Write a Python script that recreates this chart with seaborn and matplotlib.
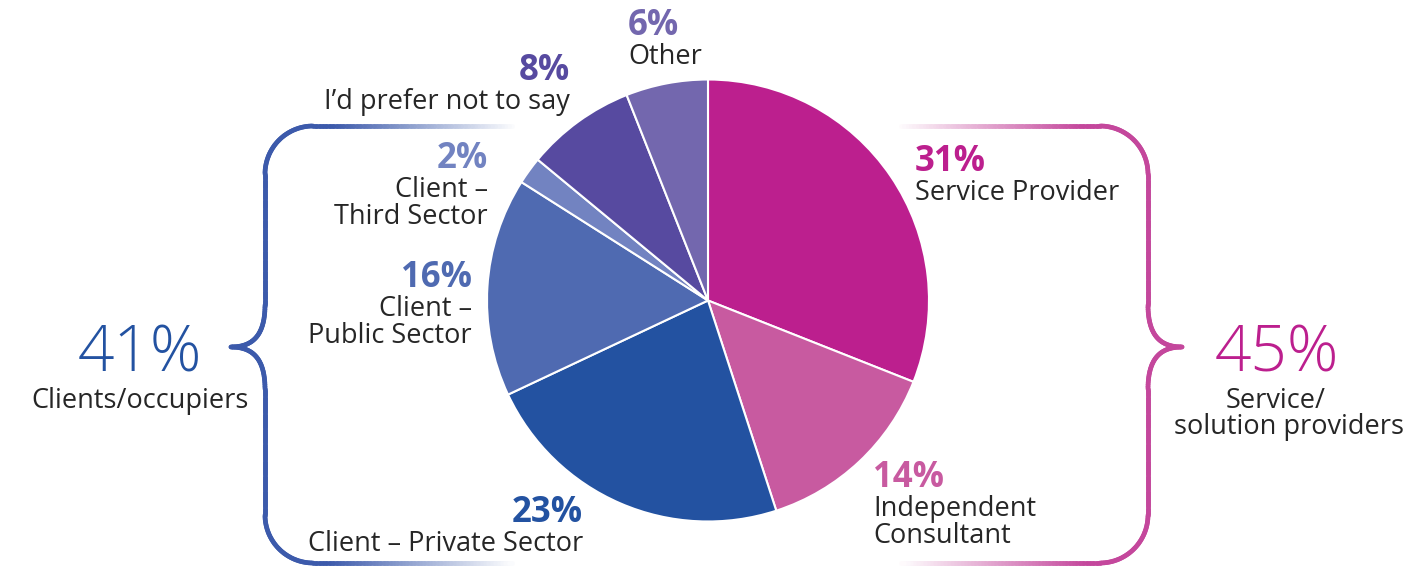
import numpy as np
import matplotlib
matplotlib.use("Agg")
import matplotlib.pyplot as plt
from matplotlib.collections import LineCollection
from matplotlib.colors import to_rgb
import seaborn as sns

# ---- data -------------------------------------------------------------
categories = [
    ["Service Provider"],
    ["Independent", "Consultant"],
    ["Client – Private Sector"],
    ["Client –", "Public Sector"],
    ["Client –", "Third Sector"],
    ["I’d prefer not to say"],
    ["Other"],
]
shares = [31, 14, 23, 16, 2, 8, 6]
slice_colors = ["#BC1F8E", "#C85AA0", "#2352A1", "#4F6AB1",
                "#7283C1", "#574AA0", "#7367AE"]

group_names = [["Clients/occupiers"], ["Service/", "solution providers"]]
group_shares = [41, 45]
group_colors = ["#2352A1", "#BC1F8E"]
brace_colors = ["#3C5AAB", "#C4479C"]

# ---- layout (pixel space, y measured from the top) ----------------------
W, H = 1423, 568
TEXT = "#262626"

sns.set_theme(style="white")
plt.rcParams["font.family"] = ["Open Sans", "DejaVu Sans"]

fig = plt.figure(figsize=(W / 100, H / 100), dpi=100)
ax = fig.add_axes([0, 0, 1, 1])


def Y(y):
    return H - y


# pie
ax.pie(shares, colors=slice_colors, startangle=90, counterclock=False,
       center=(708, Y(300.5)), radius=221,
       wedgeprops=dict(edgecolor="white", linewidth=1.5))
ax.set_xlim(0, W)
ax.set_ylim(0, H)
ax.set_aspect("auto")
ax.axis("off")

# slice labels: anchor x, baseline of the percentage, alignment
label_pos = [
    (915, 171, "left"),
    (873, 487, "left"),
    (583, 522, "right"),
    (472, 287, "right"),
    (488, 168, "right"),
    (570, 80, "right"),
    (628, 35, "left"),
]
for share, lines, col, (x, yb, ha) in zip(shares, categories, slice_colors, label_pos):
    ax.text(x, Y(yb), f"{share}%", ha=ha, va="baseline", color=col,
            fontsize=25, fontweight="bold")
    for i, line in enumerate(lines):
        ax.text(x, Y(yb + 29 + 27 * i), line, ha=ha, va="baseline",
                color=TEXT, fontsize=19.5)

# group totals beside the braces
group_pos = [(140, [140]), (1277, [1276, 1289])]
for share, lines, col, (xc, xl) in zip(group_shares, group_names, group_colors, group_pos):
    ax.text(xc, Y(372), f"{share}%", ha="center", va="baseline", color=col,
            fontsize=46, fontweight="light")
    for i, line in enumerate(lines):
        ax.text(xl[i], Y(408 + 26 * i), line, ha="center", va="baseline",
                color=TEXT, fontsize=19.5)


# ---- curly braces with fading ends -------------------------------------
def seg(p0, p1, n=60):
    t = np.linspace(0, 1, n)[:, None]
    return (1 - t) * np.array(p0) + t * np.array(p1)


def arc(cx, cy, r, a0, a1, n=40):
    a = np.linspace(a0, a1, n)
    return np.column_stack([cx + r * np.cos(a), cy + r * np.sin(a)])


def bez(p0, p1, p2, p3, n=40):
    t = np.linspace(0, 1, n)[:, None]
    p0, p1, p2, p3 = map(np.array, (p0, p1, p2, p3))
    return ((1 - t) ** 3 * p0 + 3 * (1 - t) ** 2 * t * p1
            + 3 * (1 - t) * t ** 2 * p2 + t ** 3 * p3)


xv, xt, xe, r = 265, 231, 512, 48
y_top, y_bot, y_tip = 126, 563, 347
pts = np.vstack([
    seg((xe, y_top), (xv + r, y_top)),
    arc(xv + r, y_top + r, r, -np.pi / 2, -np.pi),
    seg((xv, y_top + r), (xv, y_tip - 42)),
    bez((xv, y_tip - 42), (xv, y_tip - 12), (xv - 12, y_tip), (xt, y_tip)),
    bez((xt, y_tip), (xv - 12, y_tip), (xv, y_tip + 12), (xv, y_tip + 42)),
    seg((xv, y_tip + 42), (xv, y_bot - r)),
    arc(xv + r, y_bot - r, r, np.pi, np.pi / 2),
    seg((xv + r, y_bot), (xe, y_bot)),
])


def draw_brace(p, color, fade_full, fade_zero):
    rgb = np.array(to_rgb(color))
    mid_x = 0.5 * (p[:-1, 0] + p[1:, 0])
    t = np.clip((mid_x - fade_zero) / (fade_full - fade_zero), 0, 1)
    cols = 1 - t[:, None] * (1 - rgb)
    segs = np.stack([p[:-1], p[1:]], axis=1)
    segs[:, :, 1] = H - segs[:, :, 1]
    lc = LineCollection(segs, colors=cols, linewidths=3.4, capstyle="round")
    ax.add_collection(lc)


draw_brace(pts, brace_colors[0], 330, 515)
mirrored = pts.copy()
mirrored[:, 0] = 1413 - mirrored[:, 0]
draw_brace(mirrored, brace_colors[1], 1083, 898)

fig.savefig("out.png", dpi=100, facecolor="white")
